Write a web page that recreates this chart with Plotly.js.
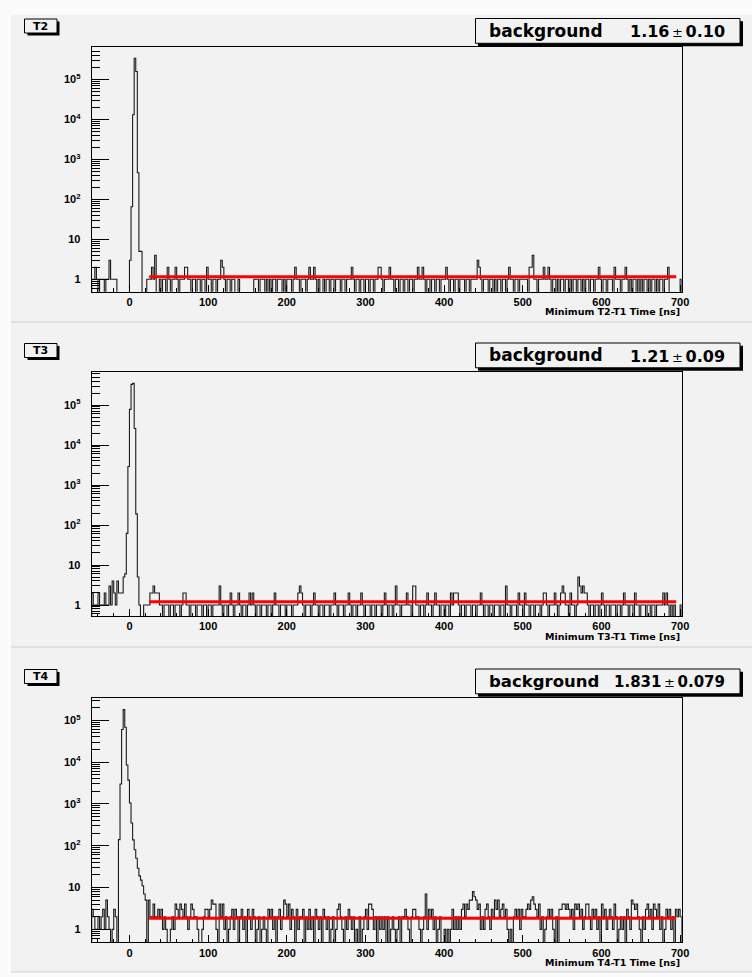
<!DOCTYPE html>
<html><head><meta charset="utf-8">
<script src="https://cdn.plot.ly/plotly-3.0.1.min.js"></script>
<style>html,body{margin:0;padding:0;background:#fbfbfb}#plot{width:752px;height:977px}</style>
</head><body><div id="plot"></div>
<script>
// ---- data ----
const binLow = -48, binWidth = 2;
const panelNames = ['T2', 'T3', 'T4'];
const xTitles = ['Minimum T2-T1 Time [ns]', 'Minimum T3-T1 Time [ns]', 'Minimum T4-T1 Time [ns]'];
const fitValues = [1.16, 1.21, 1.831];
const fitValueText = ['1.16', '1.21', '1.831'];
const fitErrorText = ['0.10', '0.09', '0.079'];
const fitRange = [25, 695];
const xTickVals = [0, 100, 200, 300, 400, 500, 600, 700];
const yDecades = [1, 10, 100, 1000, 10000, 100000];
const yTickText = ['1', '10', '10<sup>2</sup>', '10<sup>3</sup>', '10<sup>4</sup>', '10<sup>5</sup>'];

const t2Counts = [
 1,1,2,1,0,1,1,1,0,1,1,3,1,1,1,1,0,0,0,0,0,0,0,0,3,
 65,13000,335000,157000,460,5,5,0,0,0,1,1,1,2,1,4,0,0,1,0,1,1,0,2,1,
 0,1,1,2,1,0,1,1,1,2,2,1,1,0,1,1,0,1,1,0,1,1,0,2,1,
 1,0,1,1,0,1,1,3,2,1,0,1,1,0,1,1,0,0,1,0,0,0,0,0,0,
 0,0,0,1,1,1,0,1,1,1,0,1,0,1,0,1,1,0,1,1,1,0,1,0,1,
 1,1,0,1,2,1,1,0,1,1,1,0,1,2,1,1,2,1,0,1,0,0,1,0,1,
 1,0,1,1,0,1,1,1,0,1,1,0,1,1,1,2,1,0,1,1,0,1,1,0,1,
 1,0,1,1,0,1,1,2,2,1,0,1,1,1,2,1,1,0,1,1,0,1,1,0,1,
 1,0,1,1,0,1,1,2,1,1,2,1,0,1,1,0,1,1,0,1,1,0,1,1,1,
 2,1,0,1,1,0,1,1,0,1,1,1,0,1,1,0,1,1,1,1,3,2,1,0,1,
 1,1,0,1,1,0,1,0,1,1,0,1,1,0,1,2,1,1,0,1,1,0,1,1,1,
 1,1,0,2,2,4,1,1,0,1,1,1,2,1,1,2,1,0,1,1,0,1,0,1,1,
 0,1,1,0,1,0,1,1,0,1,1,0,1,0,1,1,0,1,1,0,1,1,2,1,0,
 1,1,0,1,1,1,0,2,1,1,1,0,1,1,2,1,0,1,0,1,1,0,1,0,1,
 0,1,1,0,1,0,1,1,0,1,0,1,1,0,1,1,2,0,0,0,0,0,0,0,1
];
const t3Counts = [
 2,1,1,1,2,1,1,1,2,1,1,3,1,4,2,1,4,2,2,2,5,6,62,2900,78000,
 330000,350000,26000,190,5,1,0,0,1,1,1,1,2,2,3,2,2,2,1,1,0,1,1,1,0,
 1,1,0,1,1,1,0,1,2,2,1,1,0,1,1,1,0,1,1,1,0,1,1,0,1,
 1,0,1,1,1,1,3,1,0,1,1,0,1,2,1,0,1,1,2,1,0,1,1,0,1,
 2,1,2,1,0,1,1,0,1,1,1,0,1,1,0,1,2,1,1,0,1,1,1,0,1,
 1,1,0,1,1,1,2,3,2,1,0,1,1,1,0,1,2,1,1,0,1,1,0,1,1,
 1,0,1,1,2,1,0,1,1,1,0,1,1,2,1,0,1,1,0,1,1,2,1,0,1,
 1,1,0,1,1,0,1,1,1,0,1,2,1,0,1,1,0,1,3,1,1,0,1,1,1,
 2,1,1,0,3,3,1,1,0,1,1,0,1,2,1,1,0,1,2,1,1,0,1,1,0,
 1,1,0,2,1,2,2,2,1,0,1,1,0,1,1,1,0,1,1,0,1,1,2,1,0,
 1,1,0,1,1,0,1,1,1,0,1,1,0,3,1,1,0,1,1,1,0,2,1,1,0,
 2,1,1,0,1,1,0,1,1,1,0,1,2,2,1,0,1,1,1,2,1,0,1,2,3,
 2,1,1,0,2,1,1,0,1,5,3,2,3,2,2,1,0,1,1,0,1,1,0,1,2,
 1,0,1,1,0,1,1,1,0,1,1,0,1,2,1,1,0,1,1,0,2,1,1,0,1,
 1,1,0,1,1,0,1,1,0,1,1,1,1,2,1,2,1,0,1,0,1,0,0,0,1
];
const t4Counts = [
 3,2,1,1,2,1,2,3,1,5,2,1,0,1,3,2,0,140,3000,60000,180000,68000,8500,3700,1050,
 350,138,80,50,29,19,15,11,7,5,0,5,2,2,4,2,2,3,2,3,1,2,1,0,0,
 1,2,1,4,3,2,4,3,2,4,2,1,2,4,3,2,2,1,0,0,1,2,3,3,2,
 3,5,4,4,1,0,4,2,4,1,2,0,1,2,3,1,3,2,0,2,3,1,2,0,3,
 2,1,3,2,0,1,2,0,1,2,1,0,3,2,3,1,2,0,2,3,1,2,5,4,2,
 4,1,3,2,0,3,1,2,2,3,0,2,1,3,1,2,0,3,2,1,2,0,3,2,1,
 2,0,1,2,0,1,3,4,2,1,0,2,1,3,2,1,2,0,1,0,2,0,1,2,3,
 1,4,4,3,1,2,0,2,1,2,1,2,0,2,0,1,2,1,0,1,2,0,2,2,3,
 2,1,0,2,3,3,2,2,1,0,1,2,7,1,3,2,3,1,2,0,1,2,0,0,1,
 0,1,0,1,3,1,2,1,2,1,3,4,2,4,3,5,5,8,6,5,3,4,1,2,1,
 3,4,2,1,3,2,5,3,5,2,3,4,2,3,1,0,1,0,2,3,2,3,1,3,2,
 2,3,4,3,5,6,4,3,2,4,1,2,0,1,2,3,2,3,1,0,2,0,3,3,4,
 4,3,4,3,2,3,1,4,3,4,2,3,1,2,4,4,2,1,3,2,3,1,2,0,4,
 2,3,1,2,3,2,1,4,2,0,1,2,1,2,0,3,2,1,5,4,3,4,2,1,0,
 2,1,3,4,2,3,1,4,3,2,4,1,2,0,1,3,2,3,1,2,0,3,2,3,2
];
const allCounts = [t2Counts, t3Counts, t4Counts];

// ---- layout geometry (pixels) ----
const W = 752, H = 977;
const PX = x => x / W, PY = y => 1 - y / H;
const plotLeft = 91.7, plotRight = 681.7;
const plotTops = [47.3, 372.3, 697.7];
const plotBottoms = [291.7, 616, 942.3];
const yRanges = [[-0.31, 5.8], [-0.275, 5.82], [-0.31, 5.54]];
const panelOffsets = [0, 324.5, 650.5];
const bgTextSize = [17, 17, 16.5];
const valTextSize = [16, 16, 15];

const tickFont = {family: 'Liberation Sans, Arial, sans-serif', size: 11, color: '#000', weight: 700};
const boxFont = 'DejaVu Sans, sans-serif';

const minorY = [];
for (let d = 0.1; d <= 1e6; d *= 10) for (let k = 2; k <= 9; k++) minorY.push(+(k * d).toPrecision(3));

const traces = [];
const layout = {
  width: W, height: H, margin: {l: 0, r: 0, t: 0, b: 0},
  paper_bgcolor: '#fbfbfb', plot_bgcolor: '#f2f2f2', showlegend: false,
  shapes: [], annotations: []
};

// pad backgrounds & separators
layout.shapes.push({type: 'rect', xref: 'paper', yref: 'paper', x0: PX(11), x1: 1, y0: PY(972), y1: PY(15),
  fillcolor: '#f2f2f2', line: {width: 0}, layer: 'below'});
[322, 647, 972].forEach(y => layout.shapes.push({type: 'line', xref: 'paper', yref: 'paper',
  x0: PX(11), x1: 1, y0: PY(y), y1: PY(y), line: {color: '#cfcfcf', width: 1}, layer: 'below'}));

allCounts.forEach((counts, p) => {
  const sfx = p === 0 ? '' : String(p + 1);
  const xs = [binLow], ys = [0.01];
  counts.forEach((c, i) => { xs.push(binLow + i * binWidth); ys.push(c > 0 ? c : 0.01); });
  const xEnd = binLow + counts.length * binWidth;
  xs.push(xEnd); ys.push(counts[counts.length - 1] > 0 ? counts[counts.length - 1] : 0.01);
  xs.push(xEnd); ys.push(0.01);
  traces.push({type: 'scatter', mode: 'lines', x: xs, y: ys, xaxis: 'x' + sfx, yaxis: 'y' + sfx,
    line: {color: '#1a1a1a', width: 1.1, shape: 'hv'}, hoverinfo: 'skip'});
  traces.push({type: 'scatter', mode: 'lines', x: fitRange, y: [fitValues[p], fitValues[p]],
    xaxis: 'x' + sfx, yaxis: 'y' + sfx, line: {color: '#ff0000', width: 3}, hoverinfo: 'skip'});

  layout['xaxis' + sfx] = {
    domain: [PX(plotLeft), PX(plotRight)], range: [binLow, xEnd], anchor: 'y' + sfx,
    tickmode: 'array', tickvals: xTickVals, ticks: 'inside', ticklen: 7, tickcolor: '#000', tickwidth: 1,
    showline: true, mirror: true, linecolor: '#000', linewidth: 1, showgrid: false, zeroline: false,
    tickfont: tickFont, ticklabelstandoff: 0,
    minor: {tick0: 0, dtick: 20, ticks: 'inside', ticklen: 3.5, tickcolor: '#000', showgrid: false}
  };
  layout['yaxis' + sfx] = {
    type: 'log', domain: [PY(plotBottoms[p]), PY(plotTops[p])], range: yRanges[p], anchor: 'x' + sfx,
    tickmode: 'array', tickvals: yDecades, ticktext: yTickText, ticks: 'inside', ticklen: 17,
    tickcolor: '#000', tickwidth: 1, showline: true, mirror: true, linecolor: '#000', linewidth: 1,
    showgrid: false, zeroline: false, tickfont: tickFont, ticklabelstandoff: 8,
    minor: {tickmode: 'array', tickvals: minorY, ticks: 'inside', ticklen: 8, tickcolor: '#000', showgrid: false}
  };

  const off = panelOffsets[p];
  // x-axis title (right aligned)
  layout.annotations.push({xref: 'paper', yref: 'paper', x: PX(681.5), y: PY(311.5 + off), xanchor: 'right', yanchor: 'middle',
    text: xTitles[p], showarrow: false, font: {family: boxFont, size: 9.5, color: '#000', weight: 700}});
  // title box with shadow
  layout.shapes.push({type: 'rect', xref: 'paper', yref: 'paper', x0: PX(27.5), x1: PX(59.5), y0: PY(35.5 + off), y1: PY(21.5 + off),
    fillcolor: '#000', line: {width: 0}});
  layout.shapes.push({type: 'rect', xref: 'paper', yref: 'paper', x0: PX(24.5), x1: PX(57), y0: PY(33 + off), y1: PY(19 + off),
    fillcolor: '#f2f2f2', line: {color: '#000', width: 1}});
  layout.annotations.push({xref: 'paper', yref: 'paper', x: PX(40.8), y: PY(26.3 + off), xanchor: 'center', yanchor: 'middle',
    text: panelNames[p], showarrow: false, font: {family: boxFont, size: 11, color: '#000', weight: 700}});
  // stat box with shadow
  layout.shapes.push({type: 'rect', xref: 'paper', yref: 'paper', x0: PX(478), x1: PX(743), y0: PY(46.3 + off), y1: PY(21.3 + off),
    fillcolor: '#000', line: {width: 0}});
  layout.shapes.push({type: 'rect', xref: 'paper', yref: 'paper', x0: PX(475.5), x1: PX(740), y0: PY(43.3 + off), y1: PY(18.5 + off),
    fillcolor: '#f2f2f2', line: {color: '#000', width: 1}});
  layout.annotations.push({xref: 'paper', yref: 'paper', x: PX(487), y: PY(30.5 + off), xanchor: 'left', yanchor: 'middle',
    text: 'background', showarrow: false, font: {family: boxFont, size: bgTextSize[p], color: '#000', weight: 700}});
  layout.annotations.push({xref: 'paper', yref: 'paper', x: PX(727), y: PY(31.5 + off), xanchor: 'right', yanchor: 'middle',
    text: fitValueText[p] + '<span style="font-weight:normal;font-size:13px">\u2009±\u2009</span>' + fitErrorText[p],
    showarrow: false, font: {family: boxFont, size: valTextSize[p], color: '#000', weight: 700}});
});

Plotly.newPlot('plot', traces, layout, {staticPlot: true, displayModeBar: false});
</script>
</body></html>
